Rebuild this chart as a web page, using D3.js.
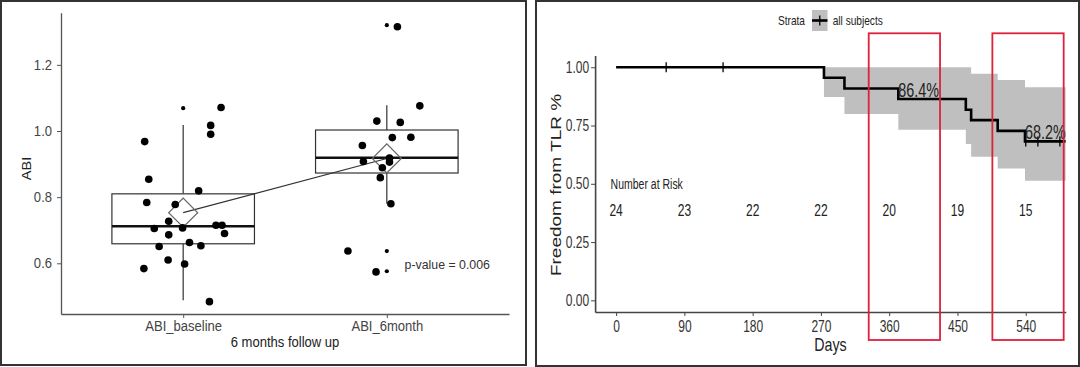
<!DOCTYPE html>
<html>
<head>
<meta charset="utf-8">
<script src="https://cdn.jsdelivr.net/npm/d3@7"></script>
<style>
    body { margin: 0; background: #fff; }
    svg text { font-family: "Liberation Sans", Arial, sans-serif; }
</style>
</head>
<body>
<svg id="chart" width="1080" height="367"></svg>
<script>
// ---------- left panel data: ABI boxplot ----------
const groups = ["ABI_baseline", "ABI_6month"];
// [lower whisker, q1, median, q3, upper whisker]
const boxStats = [[0.488, 0.659, 0.712, 0.810, 1.018], [0.780, 0.873, 0.919, 1.003, 1.078]];
const groupMeans = [0.753, 0.917];
const outlierVals = [[1.069], [1.320, 0.637, 0.576]];
// jittered points, x = group index + jitter
const baselineX = [0.811, 0.831, 0.821, 0.807, 0.858, 0.882, 0.926, 0.929, 0.929, 0.961, 0.997,
    1.031, 1.007, 1.076, 1.087, 1.129, 1.135, 1.135, 1.186, 1.161, 1.191, 1.203];
const baselineY = [0.968, 0.854, 0.784, 0.584, 0.705, 0.651, 0.610, 0.686, 0.727, 0.778, 0.707,
    0.663, 0.598, 0.819, 0.653, 0.484, 1.017, 0.990, 1.071, 0.715, 0.715, 0.690];
const sixMonthX = [2.052, 2.162, 1.951, 2.066, 2.027, 2.118, 1.880, 1.885, 2.013, 2.013, 1.978,
    1.968, 2.020, 1.809, 1.947];
const sixMonthY = [1.315, 1.076, 1.030, 1.026, 0.980, 0.981, 0.956, 0.908, 0.918, 0.906, 0.889,
    0.859, 0.780, 0.637, 0.574];
const abiTicks = [0.6, 0.8, 1.0, 1.2];
const pValueText = "p-value = 0.006";

// ---------- right panel data: Kaplan-Meier ----------
const kmTimes = [0, 274, 301, 372, 461, 468, 503, 539];
const kmSurv = [1, 0.955, 0.909, 0.864, 0.818, 0.773, 0.727, 0.682];
const kmEnd = 592.5;
const bandUpper = [1, 1, 1, 1, 1, 0.972, 0.945, 0.914];
const bandLower = [1, 0.872, 0.799, 0.732, 0.671, 0.616, 0.566, 0.513];
const censorTimes = [66, 141, 540, 556, 585];
const dayTicks = [0, 90, 180, 270, 360, 450, 540];
const riskCounts = [24, 23, 22, 22, 20, 19, 15];
const survTicks = [0, 0.25, 0.5, 0.75, 1];
const highlightDays = [[333, 427], [496, 590]];
const pctTimes = [372, 539];
const pctLabels = ["86.4%", "68.2%"];

const svg = d3.select("#chart");

// text with horizontal squeeze (source picture is a bit condensed)
function addText(g, x, y, txt, size, opts) {
    opts = opts || {};
    let sx = opts.sx || 1;
    let rot = opts.rotate ? " rotate(" + opts.rotate + ")" : "";
    return g.append("text")
        .attr("transform", "translate(" + x + "," + y + ") scale(" + sx + ",1)" + rot)
        .attr("text-anchor", opts.anchor || "start")
        .attr("fill", opts.fill || "#222")
        .style("font-size", size + "px")
        .text(txt);
}

// panel frames
svg.append("rect").attr("x", 1).attr("y", 1).attr("width", 525).attr("height", 364)
    .attr("fill", "none").attr("stroke", "#333").attr("stroke-width", 2);
svg.append("rect").attr("x", 536).attr("y", 1).attr("width", 543).attr("height", 365)
    .attr("fill", "none").attr("stroke", "#333").attr("stroke-width", 2);

// ================= LEFT PANEL =================
const left = svg.append("g");
const lx = d3.scaleLinear().domain([0.4, 2.6]).range([61, 509]);
const ly = d3.scaleLinear().domain([0.4467, 1.3577]).range([314, 12.7]);
const step = lx(2) - lx(1);
const boxW = step * 0.7;

let lyAxis = left.append("g")
    .attr("transform", "translate(61,0)")
    .call(d3.axisLeft(ly).tickValues(abiTicks).tickFormat(d3.format(".1f")).tickSize(4).tickPadding(6).tickSizeOuter(0));
let lxAxis = left.append("g")
    .attr("transform", "translate(0,314)")
    .call(d3.axisBottom(lx).tickValues([1, 2]).tickFormat(function (d) { return groups[d - 1]; })
        .tickSize(4).tickPadding(3).tickSizeOuter(0));
[lyAxis, lxAxis].forEach(function (a) {
    a.select(".domain").attr("stroke", "#555").attr("stroke-width", 1.3);
    a.selectAll(".tick line").attr("stroke", "#555");
    a.selectAll(".tick text").attr("fill", "#444").style("font-size", "14.5px")
        .attr("transform", "scale(0.9,1)");
});

// boxes
groups.forEach(function (g, i) {
    let s = boxStats[i];
    let cx = lx(i + 1);
    left.append("line").attr("x1", cx).attr("x2", cx).attr("y1", ly(s[0])).attr("y2", ly(s[1]))
        .attr("stroke", "#333").attr("stroke-width", 1.2);
    left.append("line").attr("x1", cx).attr("x2", cx).attr("y1", ly(s[3])).attr("y2", ly(s[4]))
        .attr("stroke", "#333").attr("stroke-width", 1.2);
    left.append("rect").attr("x", cx - boxW / 2).attr("width", boxW)
        .attr("y", ly(s[3])).attr("height", ly(s[1]) - ly(s[3]))
        .attr("fill", "#fff").attr("stroke", "#333").attr("stroke-width", 1.2);
    left.append("line").attr("x1", cx - boxW / 2).attr("x2", cx + boxW / 2)
        .attr("y1", ly(s[2])).attr("y2", ly(s[2]))
        .attr("stroke", "#111").attr("stroke-width", 2.5);
    // outliers
    left.selectAll(null).data(outlierVals[i]).enter().append("circle")
        .attr("cx", cx).attr("cy", function (d) { return ly(d); }).attr("r", 2.1).attr("fill", "#000");
});

// line between means
left.append("line")
    .attr("x1", lx(1)).attr("y1", ly(groupMeans[0]))
    .attr("x2", lx(2)).attr("y2", ly(groupMeans[1]))
    .attr("stroke", "#333").attr("stroke-width", 1.2);

// mean diamonds
left.selectAll(".mean").data(groupMeans).enter().append("path")
    .attr("class", "mean")
    .attr("d", d3.symbol(d3.symbolSquare, 420))
    .attr("transform", function (d, i) { return "translate(" + lx(i + 1) + "," + ly(d) + ") rotate(45)"; })
    .attr("fill", "none").attr("stroke", "#666").attr("stroke-width", 1.2);

// jittered points
const pts = baselineX.map(function (x, i) { return [x, baselineY[i]]; })
    .concat(sixMonthX.map(function (x, i) { return [x, sixMonthY[i]]; }));
left.selectAll(".pt").data(pts).enter().append("circle")
    .attr("class", "pt")
    .attr("cx", function (d) { return lx(d[0]); })
    .attr("cy", function (d) { return ly(d[1]); })
    .attr("r", 3.8).attr("fill", "#000");

addText(left, 404.6, 269, pValueText, 13, {sx: 0.95, fill: "#333"});
addText(left, 285, 347, "6 months follow up", 14.5, {sx: 0.9, anchor: "middle"});
addText(left, 31, 168.5, "ABI", 14.5, {sx: 0.9, anchor: "middle", rotate: -90});

// ================= RIGHT PANEL =================
const right = svg.append("g");
const rx = d3.scaleLinear().domain([-27.7, 592.8]).range([595.1, 1065.8]);
const ry = d3.scaleLinear().domain([-0.05, 1.05]).range([312, 55.6]);

let kmPts = kmTimes.map(function (t, i) { return {t: t, s: kmSurv[i], hi: bandUpper[i], lo: bandLower[i]}; });
kmPts.push({t: kmEnd, s: kmSurv[kmSurv.length - 1], hi: bandUpper[bandUpper.length - 1], lo: bandLower[bandLower.length - 1]});

// confidence band
right.append("path")
    .datum(kmPts)
    .attr("fill", "#bfbfbf")
    .attr("d", d3.area().curve(d3.curveStepAfter)
        .x(function (d) { return rx(d.t); })
        .y0(function (d) { return ry(d.lo); })
        .y1(function (d) { return ry(d.hi); }));

// survival curve
right.append("path")
    .datum(kmPts)
    .attr("fill", "none").attr("stroke", "#000").attr("stroke-width", 2.6)
    .attr("d", d3.line().curve(d3.curveStepAfter)
        .x(function (d) { return rx(d.t); })
        .y(function (d) { return ry(d.s); }));

// censor marks
function survAt(t) { return kmSurv[d3.bisectRight(kmTimes, t) - 1]; }
right.selectAll(".cens").data(censorTimes).enter().append("line")
    .attr("class", "cens")
    .attr("x1", function (d) { return rx(d); }).attr("x2", function (d) { return rx(d); })
    .attr("y1", function (d) { return ry(survAt(d)) - 5; })
    .attr("y2", function (d) { return ry(survAt(d)) + 5; })
    .attr("stroke", "#000").attr("stroke-width", 1.3);

let ryAxis = right.append("g")
    .attr("transform", "translate(595.1,0)")
    .call(d3.axisLeft(ry).tickValues(survTicks).tickFormat(d3.format(".2f")).tickSize(4).tickPadding(4).tickSizeOuter(0));
let rxAxis = right.append("g")
    .attr("transform", "translate(0,312)")
    .call(d3.axisBottom(rx).tickValues(dayTicks).tickFormat(d3.format("d")).tickSize(4).tickPadding(5).tickSizeOuter(0));
[ryAxis, rxAxis].forEach(function (a) {
    a.select(".domain").attr("stroke", "#444").attr("stroke-width", 1.6);
    a.selectAll(".tick line").attr("stroke", "#444");
    a.selectAll(".tick text").attr("fill", "#333").style("font-size", "16px")
        .attr("transform", "scale(0.75,1)");
});

// number at risk
addText(right, 610.6, 189, "Number at Risk", 14, {sx: 0.75});
riskCounts.forEach(function (n, i) {
    addText(right, rx(dayTicks[i]), 216, n, 16, {sx: 0.75, anchor: "middle"});
});

// percentage labels
pctLabels.forEach(function (lab, i) {
    addText(right, rx(pctTimes[i]), ry(survAt(pctTimes[i])) - 2, lab, 20, {sx: 0.72});
});

// highlight boxes
right.selectAll(".hl").data(highlightDays).enter().append("rect")
    .attr("class", "hl")
    .attr("x", function (d) { return rx(d[0]); })
    .attr("width", function (d) { return rx(d[1]) - rx(d[0]); })
    .attr("y", 33.3).attr("height", 306.7)
    .attr("fill", "none").attr("stroke", "#e0203c").attr("stroke-width", 1.8);

// axis titles
addText(right, 830.5, 351, "Days", 19, {sx: 0.75, anchor: "middle"});
addText(right, 560.5, 185, "Freedom from TLR %", 19, {sx: 0.75, anchor: "middle", rotate: -90});

// legend
addText(right, 805, 25, "Strata", 13, {sx: 0.78, anchor: "end"});
right.append("rect").attr("x", 812).attr("y", 10).attr("width", 15.5).attr("height", 21).attr("fill", "#bfbfbf");
right.append("line").attr("x1", 812).attr("x2", 827.5).attr("y1", 20.5).attr("y2", 20.5)
    .attr("stroke", "#000").attr("stroke-width", 2.6);
right.append("line").attr("x1", 819.75).attr("x2", 819.75).attr("y1", 15.5).attr("y2", 25.5)
    .attr("stroke", "#000").attr("stroke-width", 1.3);
addText(right, 832.7, 25, "all subjects", 13, {sx: 0.78});
</script>
</body>
</html>
